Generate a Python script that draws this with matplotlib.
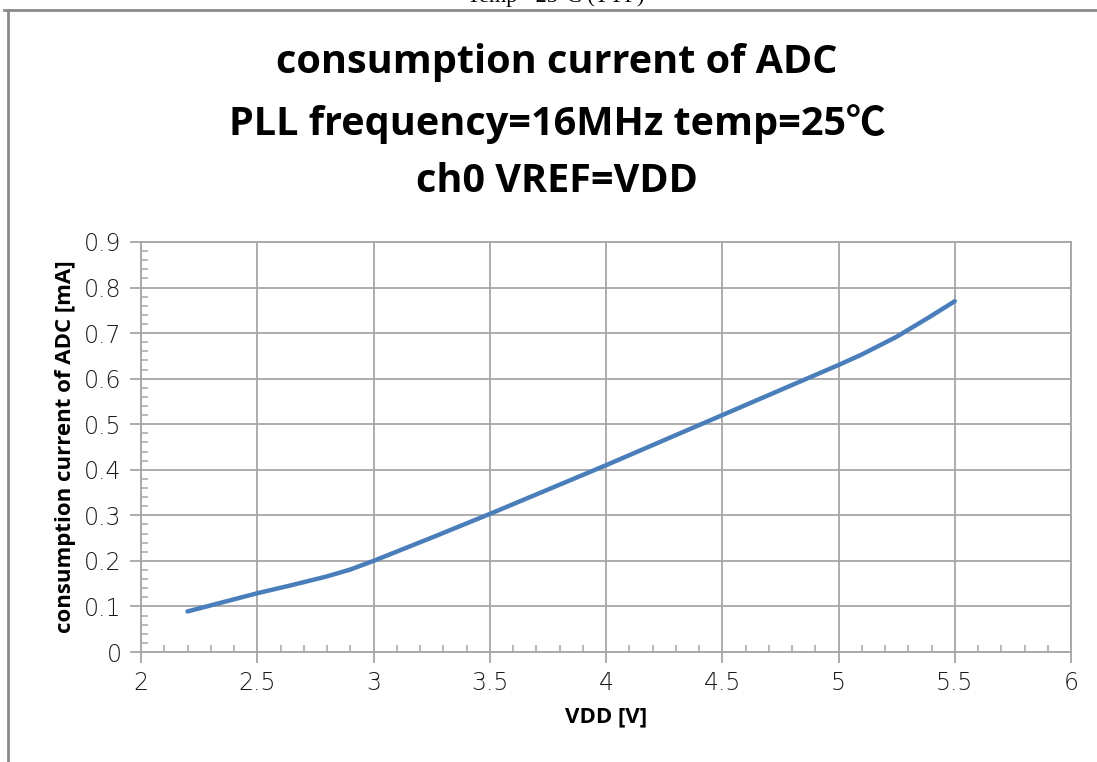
import numpy as np
import matplotlib.pyplot as plt
from matplotlib.ticker import MultipleLocator
from matplotlib.lines import Line2D

# data
vdd = [2.2, 2.35, 2.5, 2.65, 2.8, 2.9, 3.0, 3.25, 3.5, 4.0, 4.5, 5.0, 5.1, 5.25, 5.4, 5.5]
current = [0.089, 0.109, 0.129, 0.147, 0.166, 0.181, 0.200, 0.251, 0.303, 0.410,
           0.520, 0.630, 0.653, 0.692, 0.738, 0.770]

title_lines = ["consumption current of ADC",
               "PLL frequency=16MHz temp=25\u2103",
               "ch0 VREF=VDD"]

grid_c = '#a6a6a6'

fig = plt.figure(figsize=(10.97, 7.62), dpi=100)
ax = fig.add_axes([141/1097, 1-652/762, (1071-141)/1097, (652-242)/762])

ax.plot(vdd, current, color='#4a7ebb', lw=3.2, solid_capstyle='round',
        solid_joinstyle='round')

ax.set_xlim(2, 6)
ax.set_ylim(0, 0.9)
ax.xaxis.set_major_locator(MultipleLocator(0.5))
ax.xaxis.set_minor_locator(MultipleLocator(0.1))
ax.yaxis.set_major_locator(MultipleLocator(0.1))
ax.yaxis.set_minor_locator(MultipleLocator(0.02))
ax.xaxis.set_major_formatter(plt.FuncFormatter(lambda v, p: ('%g' % v)))
ax.yaxis.set_major_formatter(plt.FuncFormatter(lambda v, p: ('%g' % round(v, 2))))

ax.grid(True, which='major', color=grid_c, lw=1.3)
ax.set_axisbelow(True)
for s in ax.spines.values():
    s.set_color(grid_c)
    s.set_linewidth(1.3)

ax.tick_params(which='major', direction='out', length=8, width=1.3, color=grid_c,
               labelsize=17, labelcolor='#1a1a1a', pad=6)
ax.tick_params(which='minor', direction='in', length=5, width=1.1, color=grid_c)
for lab in ax.get_xticklabels() + ax.get_yticklabels():
    lab.set_family('DejaVu Sans')
    lab.set_fontweight('light')

ax.set_xlabel('VDD [V]', fontsize=16, fontweight='bold', family='Open Sans', labelpad=8)
ax.set_ylabel('consumption current of ADC [mA]', fontsize=16, fontweight='bold',
              family='Open Sans', labelpad=6)

ys = [62, 124, 182]
for t, y in zip(title_lines, ys):
    fig.text(557/1097, 1-y/762, t, ha='center', va='center', fontsize=28.5,
             fontweight='bold', family=['Open Sans', 'Noto Sans CJK JP'])

# clipped caption above the chart box
fig.text(556/1097, 1-(-3)/762, 'Temp =25\u00b0C (TYP)', ha='center', va='center',
         fontsize=16, family='Liberation Serif')

# outer chart frame
fig.add_artist(Line2D([4/1097, 1.01], [1-9.5/762, 1-9.5/762], transform=fig.transFigure,
                      color='#8a8a8a', lw=2))
fig.add_artist(Line2D([8/1097, 8/1097], [1-9.5/762, -0.01], transform=fig.transFigure,
                      color='#8a8a8a', lw=2))

fig.savefig('out.png', dpi=100)
